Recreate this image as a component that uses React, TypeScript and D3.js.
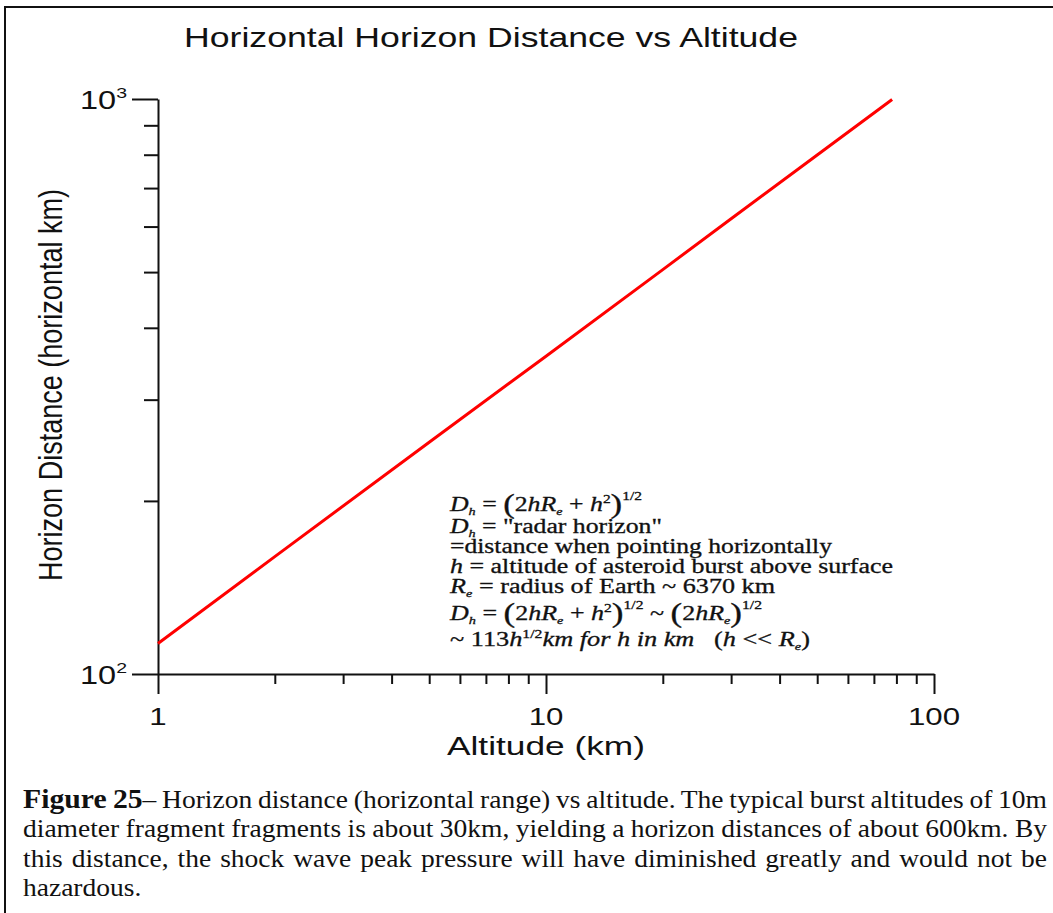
import * as React from 'react';
import { useRef, useEffect } from 'react';
import * as d3 from 'd3';

const altitudes = [1, 2, 5, 10, 20, 30, 50, 78];
const horizonDist = [113, 160, 253, 357, 505, 619, 799, 998];
const xTickValues = [1, 2, 3, 4, 5, 6, 7, 8, 9, 10, 20, 30, 40, 50, 60, 70, 80, 90, 100];
const yTickValues = [100, 200, 300, 400, 500, 600, 700, 800, 900, 1000];
const xTickLabels = ['1', '10', '100'];
const yTickLabels = [{ v: 100, exp: '2' }, { v: 1000, exp: '3' }];

const title = 'Horizontal Horizon Distance vs Altitude';
const xTitle = 'Altitude (km)';
const yTitle = 'Horizon Distance (horizontal km)';

// formula block: [text, style]  n=normal, i=italic, b=subscript italic, p=superscript, q=high superscript, P=big paren
type Seg = [string, string];
const formulaLines: Seg[][] = [
  [['D', 'i'], ['h', 'b'], [' = ', 'n'], ['(', 'P'], ['2', 'n'], ['hR', 'i'], ['e', 'b'], [' + ', 'n'], ['h', 'i'], ['2', 'p'], [')', 'P'], ['1/2', 'q']],
  [['D', 'i'], ['h', 'b'], [' = "radar horizon"', 'n']],
  [['=distance when pointing horizontally', 'n']],
  [['h', 'i'], [' = altitude of asteroid burst above surface', 'n']],
  [['R', 'i'], ['e', 'b'], [' = radius of Earth ~ 6370 km', 'n']],
  [['D', 'i'], ['h', 'b'], [' = ', 'n'], ['(', 'P'], ['2', 'n'], ['hR', 'i'], ['e', 'b'], [' + ', 'n'], ['h', 'i'], ['2', 'p'], [')', 'P'], ['1/2', 'q'], [' ~ ', 'n'], ['(', 'P'], ['2', 'n'], ['hR', 'i'], ['e', 'b'], [')', 'P'], ['1/2', 'q']],
  [['~ 113', 'n'], ['h', 'i'], ['1/2', 'p'], ['km for h in km', 'i'], ['   (', 'n'], ['h', 'i'], [' << ', 'n'], ['R', 'i'], ['e', 'b'], [')', 'n']],
];
const formulaBaselines = [511, 533, 553, 573, 593, 620, 646];
const formulaWidths = [192, 212, 382, 443, 325, 312, 360];

const captionBold = 'Figure 25';
const captionLines = [
  '– Horizon distance (horizontal range) vs altitude. The typical burst altitudes of 10m',
  'diameter fragment fragments is about 30km, yielding a horizon distances of about 600km. By',
  'this distance, the shock wave peak pressure will have diminished greatly and would not be',
  'hazardous.',
];

const SANS = '"Liberation Sans", Arial, sans-serif';
const SERIF = '"Liberation Serif", "Times New Roman", serif';
const INK = '#111';

export default function App() {
  const svgRef = useRef<SVGSVGElement>(null);

  useEffect(() => {
    const svg = d3.select(svgRef.current);
    svg.selectAll('*').remove();

    const x = d3.scaleLog().domain([1, 100]).range([158, 934]);
    const y = d3.scaleLog().domain([100, 1000]).range([674, 99]);
    const isMajor = (d: number) => Math.abs(Math.log10(d) - Math.round(Math.log10(d))) < 1e-9;

    // frame (left + top only)
    svg.append('path')
      .attr('d', 'M5,913V7H1053')
      .attr('fill', 'none')
      .attr('stroke', INK)
      .attr('stroke-width', 2);

    // title
    svg.append('text')
      .attr('x', 491).attr('y', 47)
      .attr('text-anchor', 'middle')
      .attr('font-family', SANS)
      .attr('font-size', 28)
      .attr('textLength', 614)
      .attr('lengthAdjust', 'spacingAndGlyphs')
      .attr('fill', INK)
      .text(title);

    // x axis
    const gx = svg.append('g')
      .attr('transform', `translate(0,${y(100)})`)
      .call(d3.axisBottom(x).tickValues(xTickValues).tickSizeOuter(0).tickFormat(() => ''));
    gx.select('.domain').attr('stroke', INK).attr('stroke-width', 2);
    gx.selectAll<SVGLineElement, number>('.tick line')
      .attr('stroke', INK).attr('stroke-width', 2)
      .attr('y2', (d) => (isMajor(d) ? 20 : 10));

    // y axis
    const gy = svg.append('g')
      .attr('transform', `translate(${x(1)},0)`)
      .call(d3.axisLeft(y).tickValues(yTickValues).tickSizeOuter(0).tickFormat(() => ''));
    gy.select('.domain').attr('stroke', INK).attr('stroke-width', 2);
    gy.selectAll<SVGLineElement, number>('.tick line')
      .attr('stroke', INK).attr('stroke-width', 2)
      .attr('x2', (d) => (isMajor(d) ? -26 : -14));

    // x tick labels
    xTickLabels.forEach((lab) => {
      svg.append('g')
        .attr('transform', `translate(${x(+lab)},725) scale(1.3,1)`)
        .append('text')
        .attr('text-anchor', 'middle')
        .attr('font-family', SANS)
        .attr('font-size', 24)
        .attr('fill', INK)
        .text(lab);
    });

    // y tick labels 10^n
    yTickLabels.forEach(({ v, exp }) => {
      const t = svg.append('g')
        .attr('transform', `translate(127,${y(v) + 10}) scale(1.3,1)`)
        .append('text')
        .attr('text-anchor', 'end')
        .attr('font-family', SANS)
        .attr('font-size', 25)
        .attr('fill', INK);
      t.append('tspan').text('10');
      t.append('tspan').attr('font-size', 15).attr('dy', -11).text(exp);
    });

    // axis titles
    svg.append('text')
      .attr('x', 546).attr('y', 755)
      .attr('text-anchor', 'middle')
      .attr('font-family', SANS)
      .attr('font-size', 26)
      .attr('textLength', 198)
      .attr('lengthAdjust', 'spacingAndGlyphs')
      .attr('fill', INK)
      .text(xTitle);

    svg.append('g')
      .attr('transform', 'translate(62,385) scale(1.2,1) rotate(-90)')
      .append('text')
      .attr('text-anchor', 'middle')
      .attr('font-family', SANS)
      .attr('font-size', 27)
      .attr('textLength', 392)
      .attr('lengthAdjust', 'spacingAndGlyphs')
      .attr('fill', INK)
      .text(yTitle);

    // the curve
    const pts = altitudes.map((a, i) => [a, horizonDist[i]] as [number, number]);
    svg.append('path')
      .datum(pts)
      .attr('fill', 'none')
      .attr('stroke', '#ff0000')
      .attr('stroke-width', 3)
      .attr('d', d3.line<[number, number]>().x((d) => x(d[0])).y((d) => y(d[1])));

    // formula block
    const shift: Record<string, number> = { n: 0, i: 0, P: 2, b: 4, p: -8, q: -11 };
    const size: Record<string, number> = { n: 20, i: 20, P: 27, b: 11, p: 12, q: 12 };
    formulaLines.forEach((segs, li) => {
      const t = svg.append('text')
        .attr('x', 450).attr('y', formulaBaselines[li])
        .attr('font-family', SERIF)
        .attr('font-size', 20)
        .attr('fill', INK)
        .attr('stroke', INK)
        .attr('stroke-width', 0.3)
        .attr('textLength', formulaWidths[li])
        .attr('lengthAdjust', 'spacingAndGlyphs')
        .style('white-space', 'pre');
      let cur = 0;
      segs.forEach(([txt, st]) => {
        const target = shift[st];
        t.append('tspan')
          .attr('dy', target - cur)
          .attr('font-size', size[st])
          .attr('font-style', st === 'i' || st === 'b' ? 'italic' : 'normal')
          .text(txt);
        cur = target;
      });
    });

    // caption, justified lines (slightly stretched glyphs)
    const capBase = [808, 837, 867, 896];
    const sx = 1.1;
    captionLines.forEach((line, i) => {
      const t = svg.append('g')
        .attr('transform', `translate(23,${capBase[i]}) scale(${sx},1)`)
        .append('text')
        .attr('x', 0).attr('y', 0)
        .attr('font-family', SERIF)
        .attr('font-size', 25)
        .attr('fill', INK)
        .style('white-space', 'pre');
      if (i === 0) t.append('tspan').attr('font-weight', 'bold').attr('font-size', 27).text(captionBold);
      t.append('tspan').text(line);
      if (i < captionLines.length - 1) {
        const node = t.node() as SVGTextElement;
        const w = node.getComputedTextLength();
        const full = (i === 0 ? captionBold : '') + line;
        const spaces = (full.match(/ /g) || []).length;
        if (spaces > 0) t.attr('word-spacing', (1024 / sx - w) / spaces);
      }
    });
  }, []);

  return (
    <svg
      ref={svgRef}
      width={1053}
      height={913}
      style={{ position: 'absolute', left: 0, top: 0, background: '#fff' }}
    />
  );
}
